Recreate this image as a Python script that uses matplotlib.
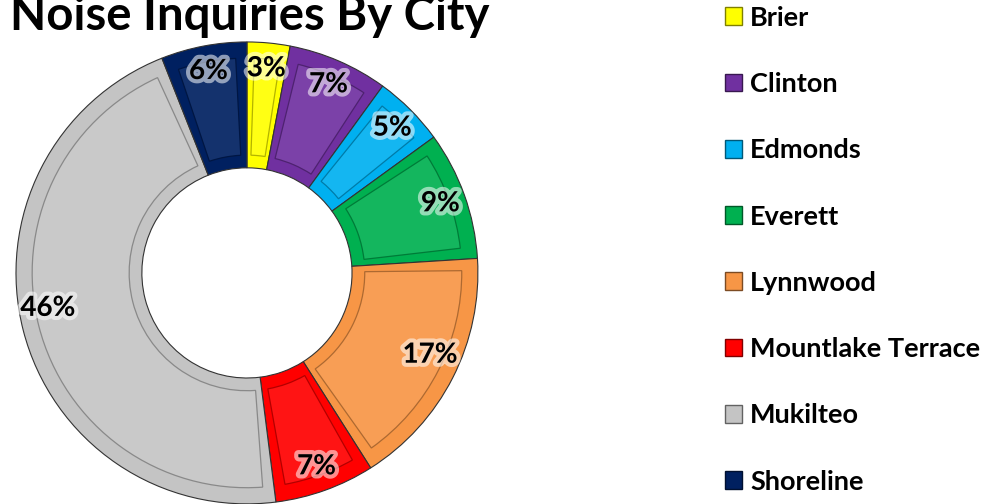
import matplotlib.pyplot as plt
import matplotlib.patheffects as pe
from matplotlib.patches import Wedge, Patch
import matplotlib.colors as mcolors

cities = ["Brier", "Clinton", "Edmonds", "Everett", "Lynnwood",
          "Mountlake Terrace", "Mukilteo", "Shoreline"]
percent = [3, 7, 5, 9, 17, 7, 46, 6]
colors = ["#FFFF00", "#7030A0", "#00B0F0", "#00B050", "#F79646",
          "#FF0000", "#C4C4C4", "#002060"]

plt.rcParams['font.family'] = ['Lato', 'DejaVu Sans']

def shade(c, f):
    r, g, b = mcolors.to_rgb(c)
    if f < 1:
        return (r * f, g * f, b * f)
    return (r + (1 - r) * (f - 1), g + (1 - g) * (f - 1), b + (1 - b) * (f - 1))

fig = plt.figure(figsize=(9.87, 5.04), dpi=100)
ax = fig.add_axes([0.0162, 0.0, 0.468, 0.917])

wedges, texts = ax.pie(percent, colors=colors, startangle=90, counterclock=False,
                       radius=1, labels=[f"{p}%" for p in percent], labeldistance=0.89,
                       wedgeprops=dict(width=0.545, edgecolor="#333333", linewidth=0.8),
                       textprops=dict(fontsize=20, fontweight='bold', color='black'))

for t in texts:
    t.set_ha('center')
    t.set_va('center')
    t.set_zorder(5)
    t.set_path_effects([pe.withStroke(linewidth=6, foreground='white', alpha=0.55)])

# Mukilteo label sits a bit higher in the original
texts[6].set_y(texts[6].get_position()[1] + 0.07)
texts[4].set_y(texts[4].get_position()[1] + 0.05)

# bevel: inset panel on every segment
for w, c in zip(wedges, colors):
    span = w.theta2 - w.theta1
    pad = min(3.0, span * 0.18)
    inner = Wedge((0, 0), 0.93, w.theta1 + pad, w.theta2 - pad, width=0.42,
                  facecolor=shade(c, 1.08), edgecolor=shade(c, 0.7),
                  linewidth=0.9, zorder=w.get_zorder() + 0.1)
    ax.add_patch(inner)

ax.set_xlim(-1, 1)
ax.set_ylim(-1, 1)
ax.set_aspect('equal')
ax.axis('off')

fig.text(0.253, 0.94, "Noise Inquiries By City", fontsize=34, fontweight='bold',
         ha='center', va='baseline')

handles = [Patch(facecolor=c, edgecolor=shade(c, 0.5)) for c in colors]
fig.legend(handles, cities, loc='upper left', bbox_to_anchor=(0.7236, 1.01),
           frameon=False, prop=dict(weight='bold', size=19.5),
           handlelength=0.63, handleheight=0.63, handletextpad=0.3,
           labelspacing=1.56, borderaxespad=0)

fig.savefig("out.png", dpi=100)
